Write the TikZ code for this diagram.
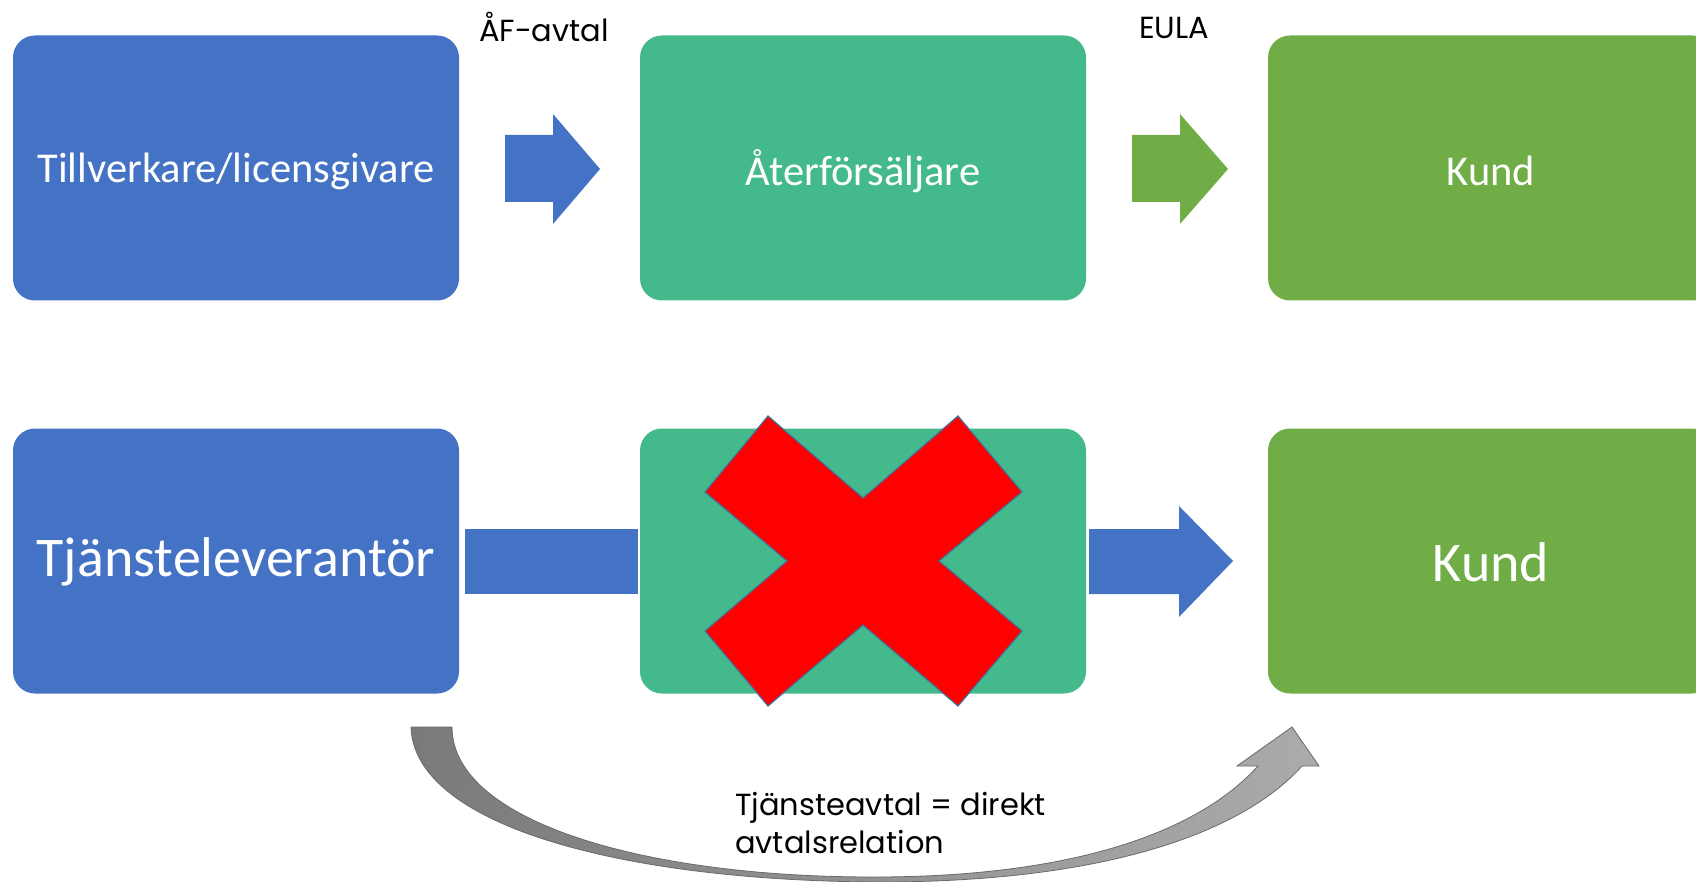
\documentclass[tikz,border=0pt]{standalone}
\usepackage{fontspec}
\setmainfont{Carlito}
\newfontfamily\gothic{Poppins}
\definecolor{cblue}{HTML}{4472C4}
\definecolor{cteal}{HTML}{44BA8C}
\definecolor{cgreen}{HTML}{70AD47}
\definecolor{xline}{HTML}{41719C}
\definecolor{gdark}{HTML}{7A7A7A}
\definecolor{glight}{HTML}{ABABAB}
\definecolor{gline}{HTML}{6A6A6A}
\begin{document}
\begin{tikzpicture}[x=1pt,y=-1pt,
  box/.style={rounded corners=22pt, minimum width=446pt, minimum height=265pt, inner sep=0pt, text=white},
  boxtop/.style={box, font=\fontsize{42.5}{48}\selectfont},
  boxbot/.style={box, font=\fontsize{56}{64}\selectfont},
  lbl/.style={font=\gothic\fontsize{30.5}{38}\selectfont, text=black, inner sep=0pt}]
\useasboundingbox (0,0) rectangle (1696,882);
% row 1
\node[boxtop, fill=cblue] (b1) at (236,168) {};
\node[boxtop, fill=cteal] (b2) at (863,168) {};
\node[boxtop, fill=cgreen] (b3) at (1491,168) {};
\node[boxtop] (t1) at (236,171) {Tillverkare/licensgivare};
\node[boxtop] (t2) at (863,171) {Återförsäljare};
\node[boxtop] (t3) at (1491,171) {Kund};
% row 2
\node[boxbot, fill=cblue] (b4) at (236,561) {};
\node[boxbot, fill=cteal] (b5) at (863,561) {};
\node[boxbot, fill=cgreen] (b6) at (1491,561) {};
\node[boxbot] (t4) at (236,562) {Tjänsteleverantör};
\node[boxbot] (t6) at (1491,562) {Kund};
% labels
\node[lbl] (l1) at (544,27) {ÅF-avtal};
\node[lbl] (l2) at (1174,28) {EULA};
% top arrows
\fill[cblue] (505,135) -- (553,135) -- (553,114) -- (600,169) -- (553,224) -- (553,202) -- (505,202) -- cycle;
\fill[cgreen] (1132,135) -- (1180,135) -- (1180,114) -- (1228,169) -- (1180,224) -- (1180,202) -- (1132,202) -- cycle;
% bottom bar and arrow
\fill[cblue] (465,529) rectangle (638,594);
\fill[cblue] (1089,529) -- (1179,529) -- (1179,506) -- (1233,561) -- (1179,617) -- (1179,594) -- (1089,594) -- cycle;
% red X
\filldraw[fill=red, draw=xline, line width=1.2pt]
  (768,416) -- (863,498) -- (958,416) -- (1022,492) -- (939,561) -- (1022,631)
  -- (958,706) -- (863,625) -- (768,706) -- (705,631) -- (787,561) -- (705,492) -- cycle;
% curved arrow
\draw[draw=gline, line width=0.8pt, left color=gdark, right color=glight]
  (411,727) .. controls (414,825) and (620,881) .. (880,882)
  .. controls (1100,882) and (1240,835) .. (1302,766)
  -- (1319,766) -- (1292,727) -- (1237,766) -- (1258,766)
  .. controls (1200,830) and (1080,876) .. (880,877)
  .. controls (640,878) and (452,820) .. (452,727) -- cycle;
\node[lbl, anchor=north west, align=left] (t7) at (735,792) {Tjänsteavtal = direkt\\avtalsrelation};
\end{tikzpicture}
\end{document}
